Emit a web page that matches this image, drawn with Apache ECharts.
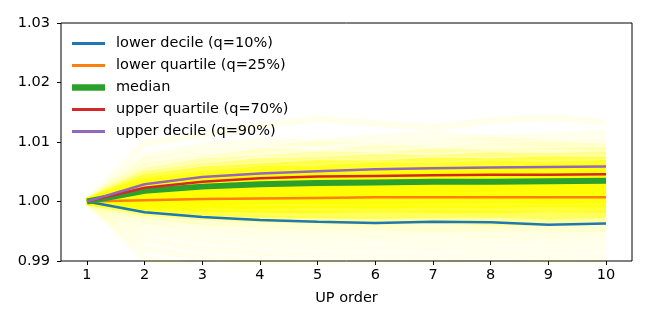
<!DOCTYPE html>
<html>
<head>
<meta charset="utf-8">
<script src="https://cdn.jsdelivr.net/npm/echarts@6/dist/echarts.min.js"></script>
<style>
    html, body { margin: 0; padding: 0; background: #fff; }
    #chart { width: 648px; height: 324px; }
</style>
</head>
<body>
<div id="chart"></div>
<script>
// UP order on the x axis
const upOrder = [1, 2, 3, 4, 5, 6, 7, 8, 9, 10]
const yTicks = [0.99, 1.0, 1.01, 1.02, 1.03]

// quantile curves
const lowerDecile = [1.0, 0.9982, 0.9974, 0.9969, 0.9966, 0.9964, 0.9966, 0.9965, 0.9961, 0.9963]
const lowerQuartile = [1.0, 1.0002, 1.0004, 1.0005, 1.0006, 1.0007, 1.0007, 1.0007, 1.0007, 1.0007]
const median = [1.0, 1.0018, 1.0025, 1.0029, 1.0031, 1.0032, 1.0033, 1.0033, 1.0034, 1.0035]
const upperQuartile = [1.0, 1.0023, 1.0033, 1.0039, 1.0042, 1.0043, 1.0044, 1.0045, 1.0045, 1.0046]
const upperDecile = [1.0, 1.0029, 1.0041, 1.0047, 1.0051, 1.0054, 1.0056, 1.0057, 1.0058, 1.0059]

// individual runs drawn faintly in the background (estimated)
const bgRuns = [
    [1, 1.0098, 1.0112, 1.0128, 1.0139, 1.0131, 1.0124, 1.0136, 1.0141, 1.0133],
    [1, 1.0076, 1.0093, 1.0101, 1.0099, 1.0107, 1.0112, 1.0106, 1.0110, 1.0114],
    [1, 1.0068, 1.0082, 1.0088, 1.0096, 1.0094, 1.0099, 1.0103, 1.0098, 1.0101],
    [1, 1.0059, 1.0071, 1.0083, 1.0081, 1.0089, 1.0087, 1.0092, 1.0095, 1.0091],
    [1, 1.0051, 1.0067, 1.0072, 1.0078, 1.0077, 1.0083, 1.0081, 1.0084, 1.0086],
    [1, 1.0046, 1.0058, 1.0067, 1.0069, 1.0074, 1.0072, 1.0077, 1.0075, 1.0078],
    [1, 1.0040, 1.0053, 1.0058, 1.0064, 1.0063, 1.0068, 1.0067, 1.0070, 1.0069],
    [1, 1.0035, 1.0046, 1.0054, 1.0055, 1.0060, 1.0059, 1.0063, 1.0061, 1.0064],
    [1, 1.0031, 1.0042, 1.0047, 1.0052, 1.0051, 1.0055, 1.0054, 1.0058, 1.0057],
    [1, 1.0027, 1.0037, 1.0043, 1.0045, 1.0049, 1.0048, 1.0051, 1.0050, 1.0053],
    [1, 1.0024, 1.0033, 1.0038, 1.0042, 1.0041, 1.0045, 1.0046, 1.0044, 1.0047],
    [1, 1.0020, 1.0029, 1.0034, 1.0036, 1.0039, 1.0038, 1.0041, 1.0042, 1.0041],
    [1, 1.0017, 1.0025, 1.0029, 1.0033, 1.0032, 1.0035, 1.0034, 1.0037, 1.0036],
    [1, 1.0014, 1.0021, 1.0026, 1.0027, 1.0030, 1.0031, 1.0029, 1.0032, 1.0033],
    [1, 1.0011, 1.0017, 1.0020, 1.0024, 1.0023, 1.0026, 1.0027, 1.0025, 1.0028],
    [1, 1.0008, 1.0013, 1.0016, 1.0018, 1.0020, 1.0019, 1.0022, 1.0023, 1.0022],
    [1, 1.0005, 1.0009, 1.0011, 1.0014, 1.0013, 1.0016, 1.0015, 1.0017, 1.0018],
    [1, 1.0002, 1.0004, 1.0007, 1.0006, 1.0009, 1.0010, 1.0008, 1.0011, 1.0010],
    [1, 0.9999, 0.9999, 1.0001, 1.0002, 1.0001, 1.0003, 1.0004, 1.0002, 1.0004],
    [1, 0.9995, 0.9994, 0.9993, 0.9995, 0.9994, 0.9996, 0.9995, 0.9997, 0.9996],
    [1, 0.9991, 0.9988, 0.9987, 0.9986, 0.9988, 0.9987, 0.9986, 0.9988, 0.9987],
    [1, 0.9987, 0.9982, 0.9979, 0.9978, 0.9977, 0.9979, 0.9978, 0.9976, 0.9978],
    [1, 0.9982, 0.9975, 0.9971, 0.9969, 0.9967, 0.9968, 0.9966, 0.9965, 0.9967],
    [1, 0.9976, 0.9966, 0.9962, 0.9958, 0.9957, 0.9955, 0.9956, 0.9954, 0.9955],
    [1, 0.9969, 0.9957, 0.9951, 0.9948, 0.9945, 0.9946, 0.9944, 0.9943, 0.9945],
    [1, 0.9960, 0.9946, 0.9940, 0.9936, 0.9935, 0.9933, 0.9934, 0.9932, 0.9933],
    [1, 0.9949, 0.9934, 0.9927, 0.9924, 0.9921, 0.9922, 0.9920, 0.9919, 0.9921],
    [1, 0.9936, 0.9920, 0.9913, 0.9910, 0.9908, 0.9907, 0.9909, 0.9906, 0.9907],
    [1, 0.9921, 0.9906, 0.9899, 0.9896, 0.9894, 0.9893, 0.9892, 0.9894, 0.9893],
    [1, 0.9904, 0.9889, 0.9882, 0.9880, 0.9878, 0.9877, 0.9879, 0.9876, 0.9877]
]

const quantiles = [
    { name: 'lower decile (q=10%)', data: lowerDecile, color: '#1f77b4', width: 2.5 },
    { name: 'lower quartile (q=25%)', data: lowerQuartile, color: '#ff7f0e', width: 2.5 },
    { name: 'median', data: median, color: '#2ca02c', width: 6 },
    { name: 'upper quartile (q=70%)', data: upperQuartile, color: '#d62728', width: 2.5 },
    { name: 'upper decile (q=90%)', data: upperDecile, color: '#9467bd', width: 2.5 }
]

const pair = (arr) => arr.map((v, i) => [upOrder[i], v])

let myChart = echarts.init(document.getElementById('chart'))

let series = []
bgRuns.forEach((run, k) => {
    // runs close to the centre of the spread look denser in the reference
    let d = (run[run.length - 1] - 1.0022) / 0.0055
    let op = 0.08 + 0.82 * Math.exp(-Math.pow(d, 4))
    series.push({
        name: 'run' + k,
        type: 'line',
        data: pair(run),
        symbol: 'none',
        silent: true,
        z: 1,
        lineStyle: { color: '#ffff00', width: 7, opacity: op }
    })
})
quantiles.forEach((q, k) => {
    series.push({
        name: q.name,
        type: 'line',
        data: pair(q.data),
        symbol: 'none',
        z: 10 + k,
        color: q.color,
        lineStyle: { color: q.color, width: q.width }
    })
})

let option = {
    animation: false,
    textStyle: { fontFamily: 'DejaVu Sans' },
    grid: {
        left: 61,
        right: 16,
        top: 23,
        bottom: 63,
        show: true,
        borderColor: '#000',
        borderWidth: 1
    },
    legend: {
        data: quantiles.map((q) => ({
            name: q.name,
            // flat bar icon, thickness follows the line width
            icon: 'path://M0,0 L33,0 L33,' + (q.width + 0.5) + ' L0,' + (q.width + 0.5) + ' Z'
        })),
        orient: 'vertical',
        left: 67,
        top: 31,
        itemWidth: 33,
        itemHeight: 14,
        itemGap: 7,
        textStyle: {
            fontSize: 14.5,
            lineHeight: 14,
            color: '#000',
            fontFamily: 'DejaVu Sans',
            padding: [0, 0, 0, 6]
        }
    },
    xAxis: {
        type: 'value',
        min: 0.55,
        max: 10.45,
        name: 'UP order',
        nameLocation: 'middle',
        nameGap: 30,
        nameTextStyle: { fontSize: 14.5, color: '#000' },
        splitLine: { show: false },
        axisLine: { show: false },
        axisTick: { show: true, length: 4, lineStyle: { color: '#000' }, customValues: upOrder },
        axisLabel: { color: '#000', fontSize: 14.5, margin: 7, customValues: upOrder }
    },
    yAxis: {
        type: 'value',
        min: 0.99,
        max: 1.03,
        splitLine: { show: false },
        axisLine: { show: false },
        axisTick: { show: true, length: 4, lineStyle: { color: '#000' }, customValues: yTicks },
        axisLabel: {
            color: '#000',
            fontSize: 14.5,
            margin: 11,
            customValues: yTicks,
            formatter: (v) => v.toFixed(2)
        }
    },
    series: series
}

option && myChart.setOption(option)
</script>
</body>
</html>
